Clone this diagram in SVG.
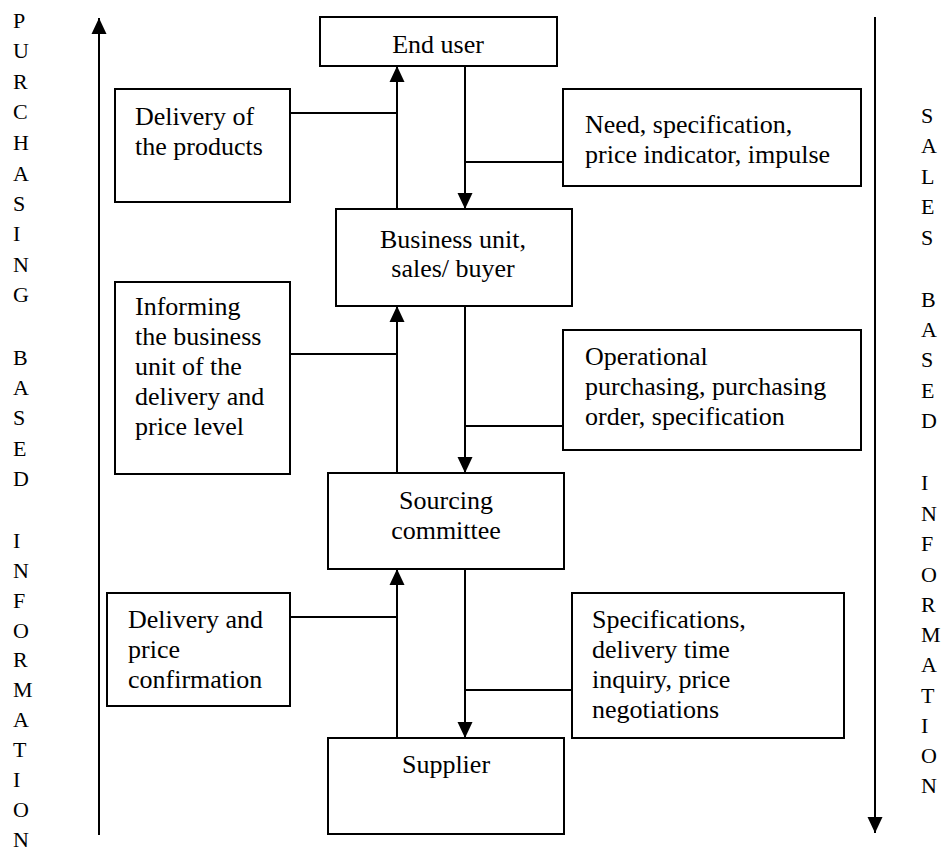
<svg xmlns="http://www.w3.org/2000/svg" width="948" height="857" viewBox="0 0 948 857">
<defs>
<marker id="ah" markerUnits="userSpaceOnUse" markerWidth="16" markerHeight="16" refX="16" refY="8" orient="auto">
<path d="M0,0.5 L16,8 L0,15.5 z" fill="#000"/>
</marker>
<style>
rect{fill:#fff;stroke:#000;stroke-width:2}
.t{font-size:26px}
.c{text-anchor:middle}
.side{font-size:22px}
.ln{stroke:#000;stroke-width:2;fill:none}
.ar{stroke:#000;stroke-width:2;fill:none;marker-end:url(#ah)}
</style>
</defs>
<rect x="0" y="0" width="948" height="857" style="fill:#fff;stroke:none"/>
<g font-family="Liberation Serif, Times New Roman, DejaVu Serif, serif" fill="#000">

<g id="left-label" class="side">
<text x="13" y="28">P</text><text x="13" y="58">U</text><text x="13" y="89">R</text><text x="13" y="119">C</text><text x="13" y="150">H</text><text x="13" y="181">A</text><text x="13" y="211">S</text><text x="13" y="241">I</text><text x="13" y="272">N</text><text x="13" y="302">G</text>
<text x="13" y="365">B</text><text x="13" y="395">A</text><text x="13" y="425">S</text><text x="13" y="456">E</text><text x="13" y="486">D</text>
<text x="13" y="548">I</text><text x="13" y="578">N</text><text x="13" y="608">F</text><text x="13" y="638">O</text><text x="13" y="667">R</text><text x="13" y="697">M</text><text x="13" y="727">A</text><text x="13" y="757">T</text><text x="13" y="787">I</text><text x="13" y="817">O</text><text x="13" y="847">N</text>
</g>

<g id="right-label" class="side">
<text x="921" y="123">S</text><text x="921" y="153">A</text><text x="921" y="184">L</text><text x="921" y="214">E</text><text x="921" y="245">S</text>
<text x="921" y="307">B</text><text x="921" y="337">A</text><text x="921" y="367">S</text><text x="921" y="398">E</text><text x="921" y="428">D</text>
<text x="921" y="490">I</text><text x="921" y="521">N</text><text x="921" y="551">F</text><text x="921" y="582">O</text><text x="921" y="612">R</text><text x="921" y="642">M</text><text x="921" y="672">A</text><text x="921" y="703">T</text><text x="921" y="733">I</text><text x="921" y="763">O</text><text x="921" y="793">N</text>
</g>

<g id="connectors">
<line class="ar" x1="99" y1="835" x2="99" y2="18"/>
<line class="ar" x1="875" y1="17" x2="875" y2="833"/>
<line class="ar" x1="397" y1="209" x2="397" y2="66"/>
<line class="ar" x1="397" y1="473" x2="397" y2="306"/>
<line class="ar" x1="397" y1="738" x2="397" y2="569"/>
<line class="ar" x1="465" y1="66" x2="465" y2="209"/>
<line class="ar" x1="465" y1="306" x2="465" y2="473"/>
<line class="ar" x1="465" y1="569" x2="465" y2="738"/>
<line class="ln" x1="290" y1="113" x2="397" y2="113"/>
<line class="ln" x1="290" y1="354" x2="397" y2="354"/>
<line class="ln" x1="290" y1="617" x2="397" y2="617"/>
<line class="ln" x1="465" y1="162" x2="563" y2="162"/>
<line class="ln" x1="465" y1="426" x2="563" y2="426"/>
<line class="ln" x1="465" y1="690" x2="572" y2="690"/>
</g>

<g id="end-user">
<rect x="320" y="17" width="237" height="49"/>
<text class="t c" x="438" y="53">End user</text>
</g>

<g id="business-unit">
<rect x="336" y="209" width="236" height="97"/>
<text class="t c" x="453" y="248">Business unit,</text>
<text class="t c" x="453" y="277">sales/ buyer</text>
</g>

<g id="sourcing-committee">
<rect x="328" y="473" width="236" height="96"/>
<text class="t c" x="446" y="509">Sourcing</text>
<text class="t c" x="446" y="539">committee</text>
</g>

<g id="supplier">
<rect x="328" y="738" width="236" height="96"/>
<text class="t c" x="446" y="773">Supplier</text>
</g>

<g id="delivery-products">
<rect x="115" y="89" width="175" height="113"/>
<text class="t" x="135" y="125">Delivery of</text>
<text class="t" x="135" y="155">the products</text>
</g>

<g id="informing">
<rect x="115" y="282" width="175" height="192"/>
<text class="t" x="135" y="315">Informing</text>
<text class="t" x="135" y="345">the business</text>
<text class="t" x="135" y="375">unit of the</text>
<text class="t" x="135" y="405">delivery and</text>
<text class="t" x="135" y="435">price level</text>
</g>

<g id="delivery-price">
<rect x="107" y="593" width="183" height="113"/>
<text class="t" x="128" y="628">Delivery and</text>
<text class="t" x="128" y="658">price</text>
<text class="t" x="128" y="688">confirmation</text>
</g>

<g id="need">
<rect x="563" y="89" width="298" height="97"/>
<text class="t" x="585" y="133">Need, specification,</text>
<text class="t" x="585" y="163">price indicator, impulse</text>
</g>

<g id="operational">
<rect x="563" y="330" width="298" height="120"/>
<text class="t" x="585" y="365">Operational</text>
<text class="t" x="585" y="395">purchasing, purchasing</text>
<text class="t" x="585" y="425">order, specification</text>
</g>

<g id="specifications">
<rect x="572" y="593" width="272" height="145"/>
<text class="t" x="592" y="628">Specifications,</text>
<text class="t" x="592" y="658">delivery time</text>
<text class="t" x="592" y="688">inquiry, price</text>
<text class="t" x="592" y="718">negotiations</text>
</g>
</g>
</svg>
